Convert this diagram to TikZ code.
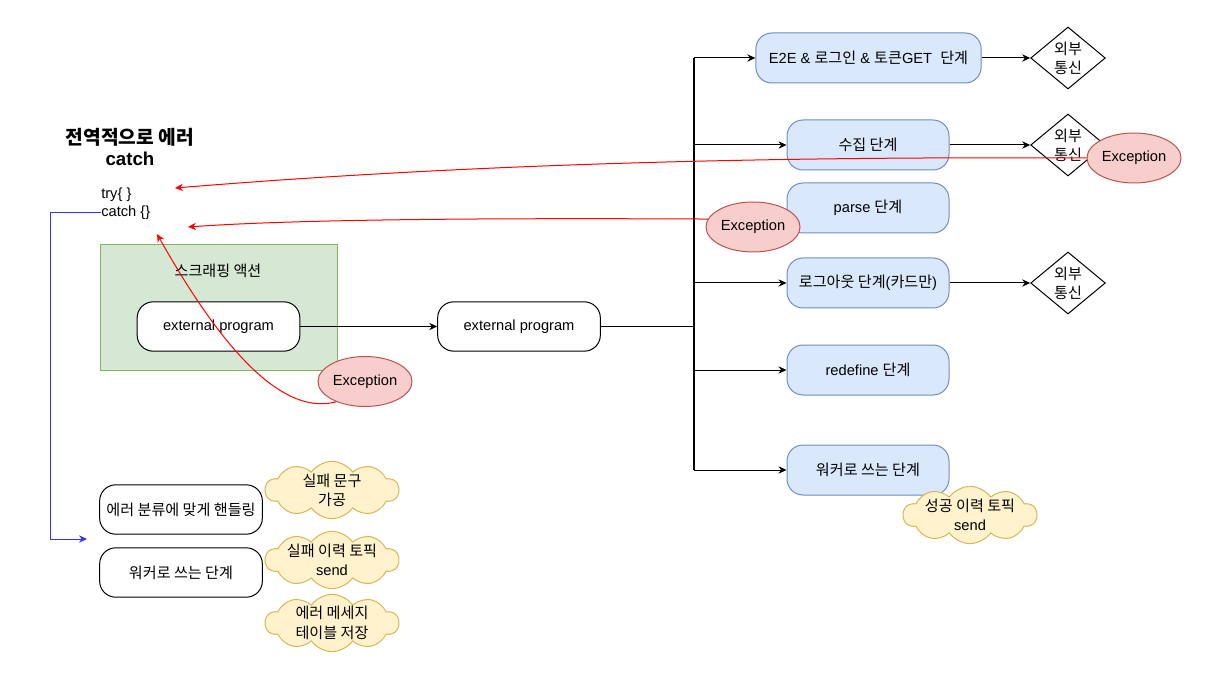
\documentclass[tikz,border=0pt]{standalone}
\usepackage{fontspec}
\setmainfont{Liberation Sans}
\newfontfamily\kr{Noto Sans CJK KR}[Scale=1.03]
\newcommand\K[1]{{\kr #1}}
\usetikzlibrary{shapes.geometric,shapes.symbols,arrows.meta}
\definecolor{stagefill}{HTML}{DAE8FC}
\definecolor{stageborder}{HTML}{6C8EBF}
\definecolor{excfill}{HTML}{F8CECC}
\definecolor{excborder}{HTML}{B85450}
\definecolor{notefill}{HTML}{FFF2CC}
\definecolor{noteborder}{HTML}{D6B656}
\definecolor{grpfill}{HTML}{D5E8D4}
\definecolor{grpborder}{HTML}{82B366}
\definecolor{bluearrow}{RGB}{51,51,255}
\tikzset{
  box/.style={draw=black, fill=white, rounded corners=12pt, minimum width=122pt, minimum height=37pt, align=center, line width=0.75pt},
  stagebox/.style={draw=stageborder, fill=stagefill, rounded corners=12pt, minimum width=121.5pt, minimum height=37.5pt, align=center, line width=0.75pt},
  extbox/.style={diamond, aspect=1.2, draw=black, fill=white, minimum width=56pt, minimum height=46.5pt, inner sep=-4pt, align=center, line width=0.75pt},
  excbox/.style={ellipse, draw=excborder, fill=excfill, minimum width=70.5pt, minimum height=37.5pt, inner sep=-3pt, line width=0.75pt},
  notebox/.style={cloud, cloud puffs=10, cloud puff arc=110, cloud ignores aspect, draw=noteborder, fill=notefill, minimum width=100pt, minimum height=43pt, align=center, inner xsep=-14pt, inner ysep=-9pt, line width=0.75pt},
  arr/.style={-{Stealth[length=6pt,width=5.5pt]}, line width=0.75pt},
  errarr/.style={arr, draw=red},
  bluearr/.style={arr, draw=bluearrow},
}
\begin{document}
\begin{tikzpicture}[x=0.75pt,y=-0.75pt, font=\fontsize{11}{14.5}\selectfont]
\useasboundingbox (0,0) rectangle (1212,691);

% title and try/catch
\node[font=\fontsize{14}{16}\selectfont\bfseries, align=center] (title) at (130,147) {\K{전역적으로 에러}\\catch};
\node[anchor=west, inner sep=0pt] (try) at (101,195) {try\{ \}};
\node[anchor=west, inner sep=0pt] (catch) at (101,213) {catch \{\}};

% scraping group
\node[draw=grpborder, fill=grpfill, minimum width=177.75pt, minimum height=93.75pt, line width=0.75pt] (grp) at (218.5,307.5) {};
\node (grplabel) at (218,271) {\K{스크래핑 액션}};
\node[box] (ep1) at (218.5,326.5) {external program};
\node[box] (ep2) at (519,326.5) {external program};

% stages
\node[stagebox, minimum width=169pt] (e2e) at (868.5,58) {E2E \& \K{로그인} \& \K{토큰}GET\ \ \K{단계}};
\node[stagebox] (collect) at (868,145) {\K{수집 단계}};
\node[stagebox] (parse) at (868,208) {parse \K{단계}};
\node[stagebox] (logout) at (868,283) {\K{로그아웃 단계}(\K{카드만})};
\node[stagebox] (redef) at (868,370) {redefine \K{단계}};
\node[stagebox] (worker) at (868,470) {\K{워커로 쓰는 단계}};

\node[extbox] (d1) at (1068,58) {\K{외부}\\\K{통신}};
\node[extbox] (d2) at (1068,145) {\K{외부}\\\K{통신}};
\node[extbox] (d3) at (1068,283) {\K{외부}\\\K{통신}};

% bottom-left boxes
\node[box] (handle) at (181,509.5) {\K{에러 분류에 맞게 핸들링}};
\node[box] (worker2) at (181,572.5) {\K{워커로 쓰는 단계}};

% connectors
\coordinate (J) at (694,326.5);
\draw[line width=1.3pt] (ep2.east) -- (J);
\draw[line width=1.1pt] (694,58) -- (694,470);
\draw[arr] (ep1) -- (ep2);
\draw[arr] (J) |- (e2e.west);
\draw[arr] (J) |- (collect.west);
\draw[arr] (J) |- (logout.west);
\draw[arr] (J) |- (redef.west);
\draw[arr] (J) |- (worker.west);
\draw[arr] (e2e) -- (d1);
\draw[arr] (collect) -- (d2);
\draw[arr] (logout) -- (d3);

% blue catch arrow
\coordinate (b1) at (50,213);
\coordinate (b2) at (87,539);
\draw[bluearr] (catch.west) -- (b1) |- (b2);

% clouds
\node[notebox] (c1) at (332,490) {\K{실패 문구}\\\K{가공}};
\node[notebox] (c2) at (332,560) {\K{실패 이력 토픽}\\send};
\node[notebox] (c3) at (332,623) {\K{에러 메세지}\\\K{테이블 저장}};
\node[notebox] (c4) at (970,515) {\K{성공 이력 토픽}\\send};

% exceptions
\node[excbox] (E1) at (1134,158) {Exception};
\node[excbox] (E2) at (753,227) {Exception};
\node[excbox] (E3) at (365,381.5) {Exception};

\coordinate (t1) at (175,188);
\coordinate (t2) at (188,227);
\coordinate (t3) at (157,234);
\draw[errarr] (E1.west) .. controls (700,156) and (420,168) .. (t1);
\draw[errarr] (E2.170) .. controls (500,218) and (300,219) .. (t2);
\draw[errarr] (E3.215) .. controls (270,420) and (200,310) .. (t3);
\end{tikzpicture}
\end{document}
